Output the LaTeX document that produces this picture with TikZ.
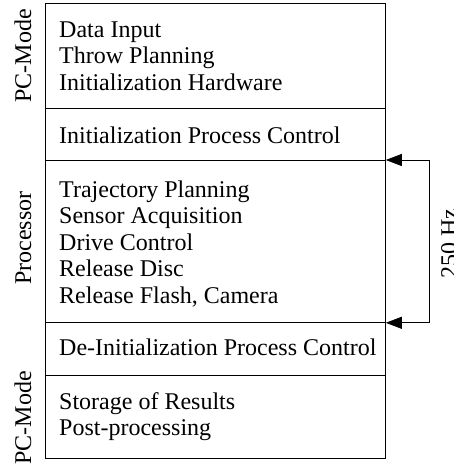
\documentclass[tikz,border=0pt]{standalone}
\usepackage{fontspec}
\setmainfont{Liberation Serif}
\usetikzlibrary{arrows.meta}
\begin{document}
\begin{tikzpicture}[x=1pt,y=-1pt,
  sect/.style={draw, line width=0.8pt, rectangle, minimum width=340pt, inner sep=0pt, anchor=north west},
  txt/.style={anchor=base west, inner sep=0pt, font=\fontsize{24}{28}\selectfont},
  side/.style={anchor=base, inner sep=0pt, rotate=90, font=\fontsize{24}{28}\selectfont},
  loop/.style={line width=0.8pt, {Triangle[length=16pt,width=12pt]}-{Triangle[length=16pt,width=12pt]}}]
\useasboundingbox (0,0) rectangle (454,465);
\node[sect, minimum height=105pt] (s1) at (45,3) {};
\node[sect, minimum height=52pt] (s2) at (45,108) {};
\node[sect, minimum height=162pt] (s3) at (45,160) {};
\node[sect, minimum height=53pt] (s4) at (45,322) {};
\node[sect, minimum height=83pt] (s5) at (45,375) {};
\node[txt] (t1) at (59,37.5) {Data Input};
\node[txt] (t2) at (59,64) {Throw Planning};
\node[txt] (t3) at (59,90.5) {Initialization Hardware};
\node[txt] (t4) at (59,144) {Initialization Process Control};
\node[txt] (t5) at (59,197) {Trajectory Planning};
\node[txt] (t6) at (59,223.5) {Sensor Acquisition};
\node[txt] (t7) at (59,250) {Drive Control};
\node[txt] (t8) at (59,276.5) {Release Disc};
\node[txt] (t9) at (59,303) {Release Flash, Camera};
\node[txt] (t10) at (59,355) {De-Initialization Process Control};
\node[txt] (t11) at (59,409) {Storage of Results};
\node[txt] (t12) at (59,435.5) {Post-processing};
\node[side] (l1) at (31,56) {PC-Mode};
\node[side] (l2) at (31,238) {Processor};
\node[side] (l3) at (31,418) {PC-Mode};
\coordinate (r) at (429,160);
\draw[loop] (s3.north east) -- (r) |- (s3.south east);
\node[side] (hz) at (457,244) {250 Hz};
\end{tikzpicture}
\end{document}
